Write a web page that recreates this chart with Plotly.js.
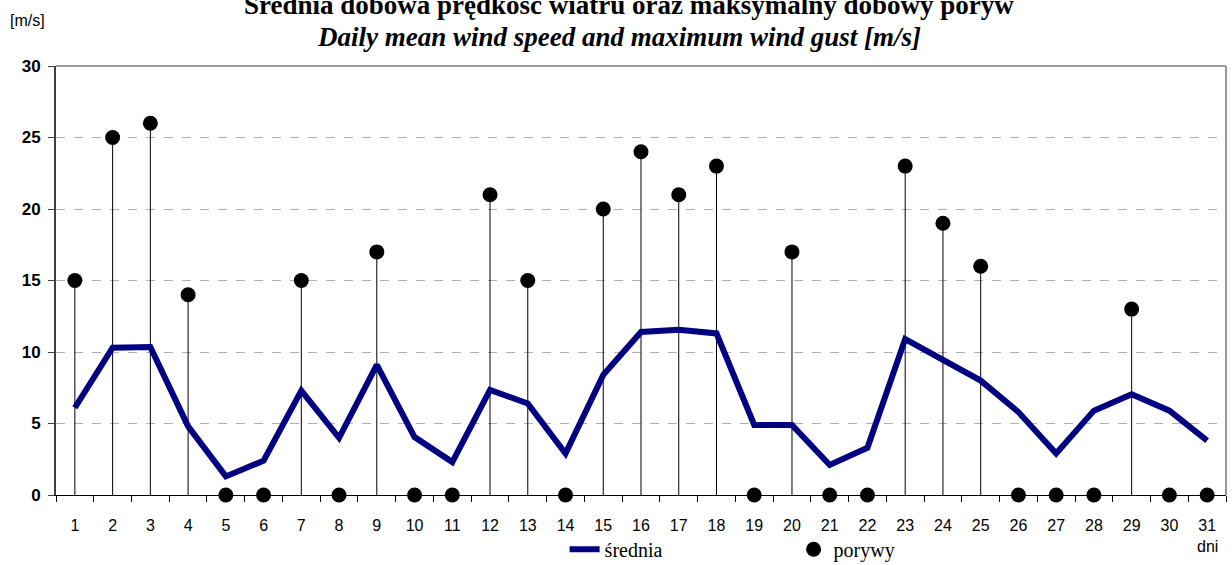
<!DOCTYPE html>
<html><head><meta charset="utf-8">
<script src="https://cdn.plot.ly/plotly-3.0.1.min.js"></script>
<style>body{margin:0;background:#fff}#c{width:1232px;height:565px}</style>
</head><body><div id="c"></div>
<script>
const days = ['1','2','3','4','5','6','7','8','9','10','11','12','13','14','15','16','17','18','19','20','21','22','23','24','25','26','27','28','29','30','31'];
const meanSpeed = [6.1,10.3,10.35,4.8,1.3,2.4,7.3,4.0,9.1,4.05,2.3,7.35,6.4,2.9,8.4,11.4,11.55,11.3,4.9,4.9,2.1,3.3,10.9,9.4,8.0,5.8,2.9,5.9,7.05,5.9,3.8];
const gusts = [15,25,26,14,0,0,15,0,17,0,0,21,15,0,20,24,21,23,0,17,0,0,23,19,16,0,0,0,13,0,0];
const yTicks = [0,5,10,15,20,25,30];

const traces = [
  {x: days, y: gusts, type:'scatter', mode:'markers', showlegend:false, hoverinfo:'skip',
   marker:{size:1, color:'rgba(0,0,0,0)'},
   error_y:{type:'data', symmetric:false, array:gusts.map(()=>0), arrayminus:gusts, width:0, thickness:1, color:'#000'}},
  {x: days, y: meanSpeed, type:'scatter', mode:'lines', name:'średnia',
   line:{color:'#000080', width:6}},
  {x: days, y: gusts, type:'scatter', mode:'markers', name:'porywy', cliponaxis:false,
   marker:{size:15, color:'#000'}}
];

const layout = {
  width:1232, height:565,
  margin:{l:56, r:6, t:66, b:70},
  paper_bgcolor:'#fff', plot_bgcolor:'#fff',
  font:{family:'Liberation Sans, Arial', color:'#000'},
  showlegend:true,
  legend:{orientation:'h', x:0.4347, xanchor:'left', yref:'container', y:0.028, yanchor:'middle',
    font:{family:'Times New Roman', size:20, color:'#000'}, entrywidth:184, entrywidthmode:'pixels',
    itemwidth:30, bgcolor:'rgba(0,0,0,0)'},
  xaxis:{type:'category', tickson:'boundaries', ticks:'outside', ticklen:6, tickcolor:'#000',
    showline:true, linecolor:'#000', linewidth:1, showgrid:false, zeroline:false, automargin:false,
    tickfont:{size:16}, ticklabelstandoff:16, range:[-0.5,30.5]},
  yaxis:{range:[0,30], tickvals:yTicks, ticks:'outside', ticklen:6, tickcolor:'#404040', automargin:false,
    showline:true, linecolor:'#404040', linewidth:2, showgrid:true, gridcolor:'#b0b0b0', griddash:'dash', gridwidth:1,
    zeroline:false, tickfont:{size:17, family:'Liberation Sans, Arial', weight:'bold'}, ticklabelstandoff:4},
  shapes:[
    {type:'line', xref:'paper', yref:'paper', x0:0, x1:1, y0:1, y1:1, line:{color:'#999', width:2}},
    {type:'line', xref:'paper', yref:'paper', x0:1, x1:1, y0:0, y1:1, line:{color:'#999', width:2}}
  ],
  annotations:[
    {text:'<b>Średnia dobowa prędkość wiatru oraz maksymalny dobowy poryw</b>', xref:'paper', yref:'paper', x:0.4897, y:1, yshift:61, xanchor:'center', yanchor:'middle', showarrow:false,
     font:{family:'Liberation Serif, serif', size:27}},
    {text:'<b><i>Daily mean wind speed and maximum wind gust [m/s]</i></b>', xref:'paper', yref:'paper', x:0.4812, y:1, yshift:29, xanchor:'center', yanchor:'middle', showarrow:false,
     font:{family:'Liberation Serif, serif', size:27}},
    {text:'[m/s]', xref:'paper', yref:'paper', x:0, xshift:-48, y:1, yshift:46, xanchor:'left', yanchor:'middle', showarrow:false,
     font:{family:'Liberation Sans, Arial', size:16}},
    {text:'dni', xref:'paper', yref:'paper', x:1, xshift:-19, y:0, yshift:-51, xanchor:'center', yanchor:'middle', showarrow:false,
     font:{family:'Liberation Sans, Arial', size:16}}
  ]
};
Plotly.newPlot('c', traces, layout, {displayModeBar:false, staticPlot:true});
</script></body></html>
